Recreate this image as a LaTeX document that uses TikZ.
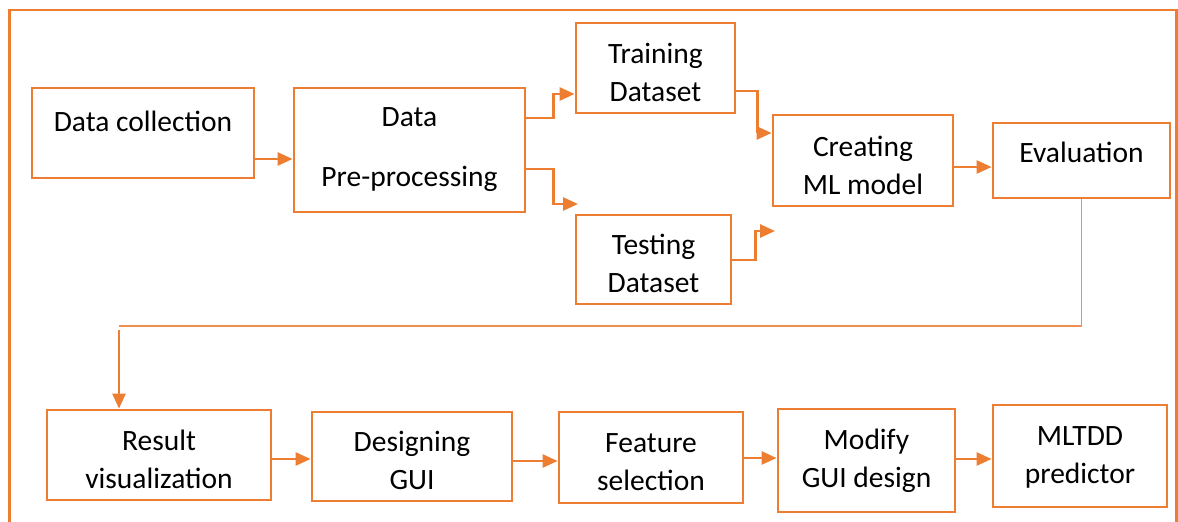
\documentclass[tikz,border=0pt]{standalone}
\usepackage{fontspec}
\setmainfont{Carlito}
\usetikzlibrary{arrows.meta,calc}
\definecolor{orng}{HTML}{ED7D31}
\tikzset{
  box/.style={draw=orng, line width=2.8pt, inner sep=0pt},
  txt/.style={inner sep=0pt, align=center, font=\fontsize{29.5}{38}\selectfont, text=black},
  arr/.style={draw=orng, line width=2.6pt, -{Triangle[length=15pt,width=13pt]}},
  thinline/.style={draw=orng!85!white, line width=1.3pt},
  frame/.style={draw=orng, line width=2.8pt}
}
\begin{document}
\begin{tikzpicture}[x=1pt,y=-1pt]
\useasboundingbox (0,0) rectangle (1178,522);
\draw[frame] (9.3,530) -- (9.3,10) -- (1176.5,10) -- (1176.5,530);

\node[box, minimum width=222pt, minimum height=90pt, label={[txt,yshift=11.5pt]center:Data collection}] (dc) at (143,133) {};
\node[box, minimum width=231pt, minimum height=124pt, label={[txt]center:Data\\[22pt]Pre-processing}] (pre) at (409.5,150) {};
\node[box, minimum width=159pt, minimum height=90pt, label={[txt,yshift=-4pt]center:Training\\Dataset}] (train) at (655.5,68) {};
\node[box, minimum width=155pt, minimum height=89pt, label={[txt,yshift=-4pt]center:Testing\\Dataset}] (test) at (653.5,259.5) {};
\node[box, minimum width=180pt, minimum height=91pt, label={[txt,yshift=-4.5pt]center:Creating\\ML model}] (create) at (863,160.5) {};
\node[box, minimum width=177pt, minimum height=75pt, label={[txt,yshift=8pt]center:Evaluation}] (eval) at (1081.5,160.5) {};
\node[box, minimum width=224pt, minimum height=90pt, label={[txt,yshift=-4pt]center:Result\\visualization}] (res) at (159,455) {};
\node[box, minimum width=200pt, minimum height=89pt, label={[txt,yshift=-3.5pt]center:Designing\\GUI}] (des) at (412,456.5) {};
\node[box, minimum width=184pt, minimum height=91pt, label={[txt,yshift=-4.5pt]center:Feature\\selection}] (feat) at (651,457.5) {};
\node[box, minimum width=177pt, minimum height=103pt, label={[txt,yshift=-0.5pt]center:Modify\\GUI design}] (mod) at (866.5,460.5) {};
\node[box, minimum width=174pt, minimum height=102pt, label={[txt,yshift=-1.5pt]center:MLTDD\\predictor}] (mltdd) at (1080,456) {};

\coordinate (testfree) at (578,204);
\coordinate (createfree) at (775,231);
\coordinate (bend) at (119,326);

% top row
\path ($(dc.east)+(0,26)$) coordinate (a1);
\draw[arr] (a1) -- (a1 -| pre.west);
\draw[arr] ($(pre.east)+(0,-32)$) -- ++(27,0) |- ($(train.west)+(0,26)$);
\draw[arr] ($(pre.east)+(0,19)$) -- ++(27,0) |- (testfree);
\draw[arr] ($(train.east)+(0,23)$) -- ++(21,0) |- ($(create.west)+(0,-27.5)$);
\draw[arr] ($(test.east)+(0,0.5)$) -- ++(23,0) |- (createfree);
\path ($(create.east)+(0,6.5)$) coordinate (a2);
\draw[arr] (a2) -- (a2 -| eval.west);

% return
\draw[thinline] (eval.south) |- (bend);
\draw[arr] ($(bend)+(0,4)$) -- (bend |- res.north);

% bottom row
\path ($(res.east)+(0,4)$) coordinate (b1);
\draw[arr] (b1) -- (b1 -| des.west);
\path ($(des.east)+(0,4.5)$) coordinate (b2);
\draw[arr] (b2) -- (b2 -| feat.west);
\path ($(feat.east)+(0,0.5)$) coordinate (b3);
\draw[arr] (b3) -- (b3 -| mod.west);
\path ($(mod.east)+(0,-1.5)$) coordinate (b4);
\draw[arr] (b4) -- (b4 -| mltdd.west);
\end{tikzpicture}
\end{document}
